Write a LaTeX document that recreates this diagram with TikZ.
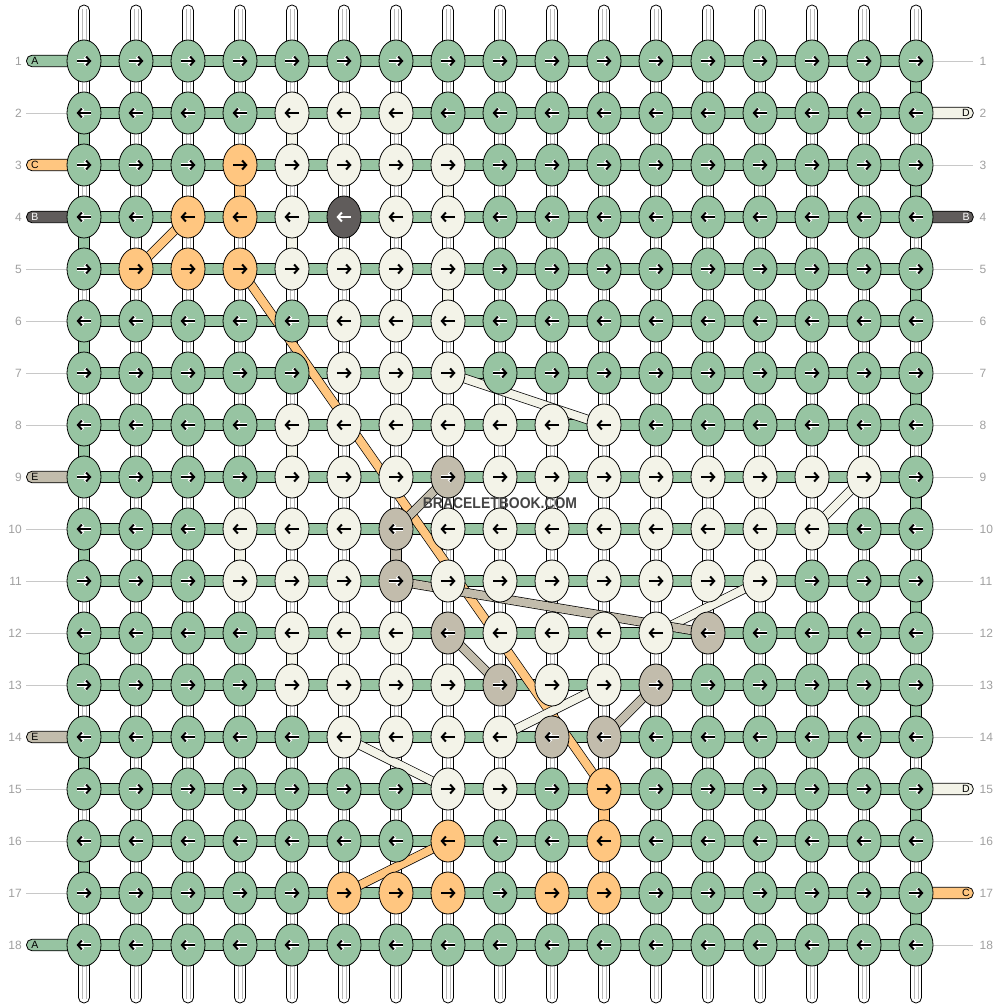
\documentclass[tikz,border=0pt]{standalone}
\usepackage{fontspec}
\setmainfont{Liberation Sans}
\usetikzlibrary{arrows.meta,shapes.geometric}
\definecolor{colG}{RGB}{151,196,162}
\definecolor{colD}{RGB}{243,243,232}
\definecolor{colC}{RGB}{255,198,128}
\definecolor{colB}{RGB}{96,92,91}
\definecolor{colE}{RGB}{194,188,172}
\definecolor{numgray}{RGB}{160,160,160}
\definecolor{linegray}{RGB}{200,200,200}
\definecolor{innergray}{RGB}{185,185,185}
\definecolor{wmark}{RGB}{68,68,68}
\tikzset{
  knot/.style={ellipse, draw=black, line width=0.8pt, minimum width=34pt, minimum height=42pt, inner sep=0pt},
  vbar/.style={draw=black, line width=0.8pt, fill=white},
  vline/.style={innergray, line width=0.6pt},
  seg/.style={draw=black, line width=0.8pt},
  hbar/.style={draw=black, line width=0.8pt, fill=colG},
  tailbar/.style={draw=black, line width=0.8pt},
  rowline/.style={linegray, line width=0.9pt},
  rownum/.style={text=numgray, font=\fontsize{12}{12}\selectfont, inner sep=0pt},
  taillab/.style={font=\fontsize{10.5}{10.5}\selectfont, inner sep=0pt},
  diagout/.style={black, line width=9.4pt},
  diag/.style={line width=8pt},
  tipst/.style={-{Straight Barb[length=4pt,width=9pt]}},
  haloG/.style={white, line width=3.6pt, tipst},
  haloE/.style={white, line width=3.6pt, tipst},
  haloD/.style={draw=none},
  haloC/.style={draw=none},
  haloB/.style={draw=none},
  arrG/.style={black, line width=2pt, tipst},
  arrE/.style={black, line width=2pt, tipst},
  arrD/.style={black, line width=2pt, tipst},
  arrC/.style={black, line width=2pt, tipst},
  arrB/.style={white, line width=2pt, tipst},
}
% knot colours (row/col/colour), others green
\foreach \r/\c/\k in {2/5/D,2/6/D,2/7/D,
 3/4/C,3/5/D,3/6/D,3/7/D,3/8/D,
 4/3/C,4/4/C,4/5/D,4/6/B,4/7/D,4/8/D,
 5/2/C,5/3/C,5/4/C,5/5/D,5/6/D,5/7/D,5/8/D,
 6/6/D,6/7/D,6/8/D,
 7/6/D,7/7/D,7/8/D,
 8/5/D,8/6/D,8/7/D,8/8/D,8/9/D,8/10/D,8/11/D,
 9/5/D,9/6/D,9/7/D,9/8/E,9/9/D,9/10/D,9/11/D,9/12/D,9/13/D,9/14/D,9/15/D,9/16/D,
 10/4/D,10/5/D,10/6/D,10/7/E,10/8/D,10/9/D,10/10/D,10/11/D,10/12/D,10/13/D,10/14/D,10/15/D,
 11/4/D,11/5/D,11/6/D,11/7/E,11/8/D,11/9/D,11/10/D,11/11/D,11/12/D,11/13/D,11/14/D,
 12/5/D,12/6/D,12/7/D,12/8/E,12/9/D,12/10/D,12/11/D,12/12/D,12/13/E,
 13/5/D,13/6/D,13/7/D,13/8/D,13/9/E,13/10/D,13/11/D,13/12/E,
 14/6/D,14/7/D,14/8/D,14/9/D,14/10/E,14/11/E,
 15/8/D,15/9/D,15/11/C,
 16/8/C,16/11/C,
 17/6/C,17/7/C,17/8/C,17/10/C,17/11/C}{\expandafter\xdef\csname kc-\r-\c\endcsname{\k}}
\begin{document}
\begin{tikzpicture}[x=1pt,y=-1pt]
\fill[white] (0,0) rectangle (1000,1008);
\useasboundingbox (0,0) rectangle (1000,1008);
% grid coordinates
\foreach \r in {1,...,18}{
  \foreach \c in {1,...,17}{
    \coordinate (p-\r-\c) at ({84+52*(\c-1)},{61+52*(\r-1)});
  }
}
% vertical warp threads
\foreach \c in {1,...,17}{
  \pgfmathsetmacro\x{84+52*(\c-1)}
  \draw[vbar, rounded corners=5.4pt] ({\x-5.5},5) rectangle ({\x+5.5},1003);
  \draw[vline] ({\x-2.2},9) -- ({\x-2.2},999);
  \draw[vline] ({\x+2.2},9) -- ({\x+2.2},999);
}
% edge turn segments (green)
\foreach \r in {2,4,...,16}{
  \pgfmathsetmacro\y{61+52*(\r-1)}
  \draw[seg, fill=colG] (78.5,{\y+14}) rectangle (89.5,{\y+38});
}
\foreach \r in {1,3,...,17}{
  \pgfmathsetmacro\y{61+52*(\r-1)}
  \draw[seg, fill=colG] (910.5,{\y+14}) rectangle (921.5,{\y+38});
}
% coloured vertical segments (col/upper row/colour)
\foreach \c/\r/\k in {5/2/D,4/3/C,8/3/D,5/4/D,8/5/D,5/8/D,4/10/D,7/10/E,5/12/D,11/15/C}{
  \pgfmathsetmacro\x{84+52*(\c-1)}
  \pgfmathsetmacro\y{61+52*(\r-1)}
  \draw[seg, fill=col\k] ({\x-5.5},{\y+14}) rectangle ({\x+5.5},{\y+38});
}
% horizontal threads
\foreach \r in {1,...,18}{
  \pgfmathsetmacro\y{61+52*(\r-1)}
  \draw[hbar] (84,{\y-5.75}) rectangle (916,{\y+5.75});
}
% left tails
\foreach \r/\k/\t/\tc in {1/G/A/black,3/C/C/black,4/B/B/white,9/E/E/black,14/E/E/black,18/G/A/black}{
  \pgfmathsetmacro\y{61+52*(\r-1)}
  \draw[tailbar, fill=col\k, rounded corners=5.5pt] (26.5,{\y-5.75}) rectangle (84,{\y+5.75});
  \node[taillab, text=\tc] (tl-\r) at (35,\y) {\t};
}
% right tails
\foreach \r/\k/\t/\tc in {2/D/D/black,4/B/B/white,15/D/D/black,17/C/C/black}{
  \pgfmathsetmacro\y{61+52*(\r-1)}
  \draw[tailbar, fill=col\k, rounded corners=5.5pt] (916,{\y-5.75}) rectangle (973.3,{\y+5.75});
  \node[taillab, text=\tc] (tr-\r) at (966,\y) {\t};
}
% row guide lines
\foreach \r in {2,5,6,7,8,10,11,12,13,15,16,17}{
  \pgfmathsetmacro\y{61+52*(\r-1)}
  \draw[rowline] (26,\y) -- (67,\y);
}
\foreach \r in {1,3,5,6,7,8,9,10,11,12,13,14,16,18}{
  \pgfmathsetmacro\y{61+52*(\r-1)}
  \draw[rowline] (933,\y) -- (973,\y);
}
% row numbers
\foreach \r in {1,...,18}{
  \pgfmathsetmacro\y{61+52*(\r-1)}
  \node[rownum, anchor=east] (ln-\r) at (22,\y) {\r};
  \node[rownum, anchor=west] (rn-\r) at (979.5,\y) {\r};
}
% diagonal strands
\foreach \a/\b/\k in {4-3/5-2/C,5-4/15-11/C,7-8/8-11/D,9-16/10-15/D,11-14/12-12/D,9-8/10-7/E,11-7/12-13/E,12-8/13-9/E,13-12/14-11/E,13-11/14-9/D,14-6/15-8/D,16-8/17-6/C}{
  \draw[diagout] (p-\a) -- (p-\b);
  \draw[diag, draw=col\k] (p-\a) -- (p-\b);
}
% knots with arrows
\foreach \r in {1,...,18}{
  \foreach \c in {1,...,17}{
    \ifcsname kc-\r-\c\endcsname \edef\kk{\csname kc-\r-\c\endcsname}\else \def\kk{G}\fi
    \pgfmathsetmacro\x{84+52*(\c-1)}
    \pgfmathsetmacro\y{61+52*(\r-1)}
    \ifodd\r \def\dd{1}\else \def\dd{-1}\fi
    \pgfmathsetmacro\xa{\x-7*\dd}
    \pgfmathsetmacro\xb{\x+7.5*\dd}
    \node[knot, fill=col\kk] (k-\r-\c) at (p-\r-\c) {};
    \draw[halo\kk] (\xa,\y) -- (\xb,\y);
    \draw[arr\kk] (\xa,\y) -- (\xb,\y);
  }
}
% watermark
\node[text=wmark, font=\bfseries\fontsize{15.5}{15.5}\selectfont, xscale=0.9, inner sep=0pt] (wm) at (500,503) {BRACELETBOOK.COM};
\end{tikzpicture}
\end{document}
